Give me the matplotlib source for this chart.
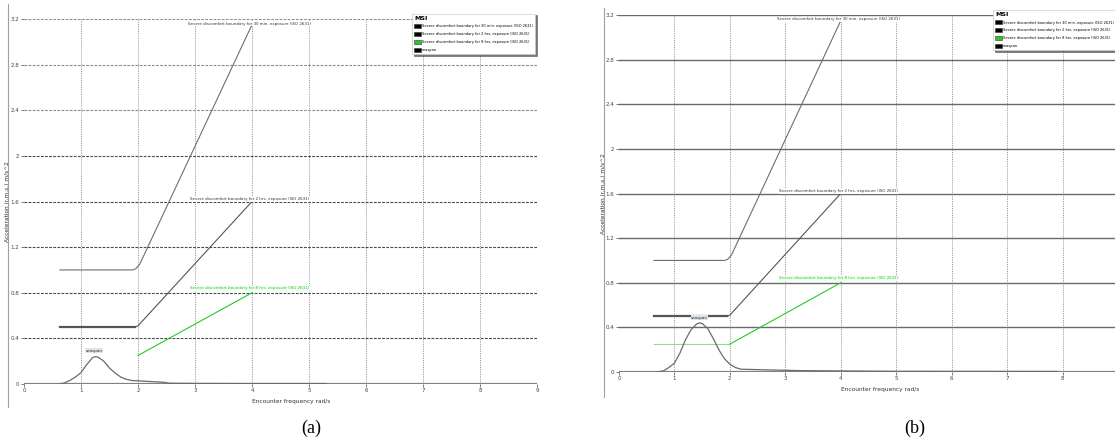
import matplotlib

matplotlib.use("Agg")
import matplotlib.pyplot as plt
from matplotlib.lines import Line2D
from matplotlib.patches import Patch

# ISO 2631 severe discomfort boundaries (encounter frequency rad/s, acceleration m/s^2)
bound_30min_x = [0.63, 1.90, 1.96, 2.03, 4.0]
bound_30min_y = [1.00, 1.00, 1.01, 1.05, 3.15]
bound_2hr_x = [0.63, 1.95, 2.0, 4.0]
bound_2hr_y = [0.50, 0.50, 0.51, 1.60]
bound_8hr_flat_x = [0.63, 2.0]
bound_8hr_flat_y = [0.25, 0.25]
bound_8hr_rise_x = [2.0, 4.0]
bound_8hr_rise_y = [0.25, 0.80]

# vessel response spectra
resp_a_x = [0.62, 0.70, 0.80, 0.90, 1.00, 1.10, 1.20, 1.25, 1.30, 1.40, 1.50, 1.60,
            1.70, 1.80, 1.90, 2.00, 2.20, 2.45, 2.55, 3.00, 4.00, 5.00, 5.30]
resp_a_y = [0.000, 0.008, 0.030, 0.060, 0.100, 0.170, 0.230, 0.240, 0.235, 0.200, 0.140, 0.095,
            0.060, 0.040, 0.030, 0.028, 0.022, 0.015, 0.007, 0.005, 0.004, 0.004, 0.004]
resp_b_x = [0.70, 0.80, 0.90, 1.00, 1.10, 1.20, 1.30, 1.40, 1.45, 1.50, 1.60, 1.70,
            1.80, 1.90, 2.00, 2.10, 2.20, 2.60, 3.30, 5.00, 7.90]
resp_b_y = [0.000, 0.010, 0.040, 0.080, 0.170, 0.290, 0.380, 0.430, 0.440, 0.435, 0.390, 0.300,
            0.200, 0.120, 0.070, 0.040, 0.025, 0.020, 0.012, 0.006, 0.005]
resp_a_peak = (1.23, 0.245)
resp_b_peak = (1.45, 0.44)

x_ticks = [0, 1, 2, 3, 4, 5, 6, 7, 8, 9]
y_ticks = [0, 0.4, 0.8, 1.2, 1.6, 2.0, 2.4, 2.8, 3.2]
y_tick_labels = ["0", "0.4", "0.8", "1.2", "1.6", "2", "2.4", "2.8", "3.2"]

label_30min = "Severe discomfort boundary for 30 min. exposure (ISO 2631)"
label_2hr = "Severe discomfort boundary for 2 hrs. exposure (ISO 2631)"
label_8hr = "Severe discomfort boundary for 8 hrs. exposure (ISO 2631)"
label_resp = "seaspan"
legend_labels = [
    "Severe discomfort boundary for 30 min. exposure (ISO 2631)",
    "Severe discomfort boundary for 2 hrs. exposure (ISO 2631)",
    "Severe discomfort boundary for 8 hrs. exposure (ISO 2631)",
    label_resp,
]

NARROW = ["Liberation Sans Narrow", "DejaVu Sans"]
GREEN = "#22cc22"

fig = plt.figure(figsize=(11.15, 4.42), dpi=100)


def draw_panel(ax, resp_x, resp_y, peak, green_flat, hgrid, show_last_xtick):
    ax.set_xlim(0, 9)
    ax.set_ylim(0, 3.2)
    for s in ax.spines.values():
        s.set_visible(False)

    for xv in x_ticks[1:]:
        ax.axvline(xv, color="#9a9a9a", lw=0.7, ls=(0, (1.2, 1.2)), zorder=0)
    for yv in y_ticks[1:]:
        style = dict(hgrid)
        if "upper_color" in style:
            upper = style.pop("upper_color")
            if yv > 2.1:
                style["color"] = upper
        ax.axhline(yv, zorder=0, **style)
    ax.axhline(0, color="#808080", lw=1.6, zorder=1)

    ax.plot(bound_30min_x, bound_30min_y, color="#6e6e6e", lw=0.8, zorder=3)
    ax.plot(bound_2hr_x[:2], bound_2hr_y[:2], color="#555555", lw=1.6, zorder=3)
    ax.plot(bound_2hr_x[1:], bound_2hr_y[1:], color="#555555", lw=0.8, zorder=3)
    if green_flat:
        ax.plot(bound_8hr_flat_x, bound_8hr_flat_y, color="#88e088", lw=0.8, zorder=3)
    ax.plot(bound_8hr_rise_x, bound_8hr_rise_y, color=GREEN, lw=0.8, zorder=3)

    ax.plot(resp_x, resp_y, color="#6a6a6a", lw=0.9, zorder=4)

    txt = dict(fontsize=2.9, family=NARROW, ha="center", va="center", zorder=6)
    ax.text(3.96, 3.16, label_30min, color="#333333",
            bbox=dict(fc="white", ec="none", pad=0.3), **txt)
    ax.text(3.96, 1.62, label_2hr, color="#333333",
            bbox=dict(fc="white", ec="none", pad=0.3), **txt)
    ax.text(3.96, 0.84, label_8hr, color=GREEN,
            bbox=dict(fc="#f0fff0", ec="none", pad=0.3), **txt)
    ax.text(peak[0], peak[1] + 0.03, label_resp, fontsize=3.0, family=NARROW,
            ha="center", va="bottom", color="#333333", zorder=6,
            bbox=dict(fc="#dde4ea", ec="none", pad=0.2))

    ax.set_xticks(x_ticks)
    xlabels = [str(v) for v in x_ticks]
    if not show_last_xtick:
        xlabels[-1] = ""
    ax.set_xticklabels(xlabels)
    ax.set_yticks(y_ticks)
    ax.set_yticklabels(y_tick_labels)
    ax.tick_params(axis="both", labelsize=4.0, colors="#444444", length=2, width=0.5, pad=1.2)
    for t in ax.get_xticklabels() + ax.get_yticklabels():
        t.set_family(NARROW)

    ax.text(4.0, -0.13, "Encounter frequency rad/s", fontsize=4.2, family=NARROW,
            ha="left", va="top", color="#333333")

    handles = [
        Patch(fc="black", ec="#333333", lw=0.4),
        Patch(fc="black", ec="#333333", lw=0.4),
        Patch(fc=GREEN, ec="#333333", lw=0.4),
        Patch(fc="black", ec="#333333", lw=0.4),
    ]
    leg = ax.legend(handles, legend_labels, title="MSI", loc="upper right",
                    bbox_to_anchor=(1.0, 1.02), title_fontsize=4.5,
                    handlelength=1.8, handleheight=1.3, handletextpad=0.4,
                    labelspacing=1.0, borderpad=0.6, frameon=True, fancybox=False,
                    shadow={"ox": 1.2, "oy": -1.2, "color": "#555555", "alpha": 0.8},
                    alignment="left", prop={"family": NARROW, "size": 2.6})
    leg.get_frame().set_edgecolor("#cccccc")
    leg.get_frame().set_linewidth(0.5)
    leg.get_title().set_fontweight("bold")
    leg.set_zorder(10)


ax_a = fig.add_axes([24 / 1115, 58 / 442, 513 / 1115, 365 / 442])
draw_panel(ax_a, resp_a_x, resp_a_y, resp_a_peak, False,
           dict(color="#4a4a4a", lw=0.8, ls=(0, (2.5, 1.2)), upper_color="#909090"), True)
ax_a.yaxis.set_label_coords(-0.028, 0.55)
ax_a.set_ylabel("Acceleration (r.m.s.) m/s^2", fontsize=4.2, family=NARROW, color="#333333")

ax_b = fig.add_axes([619 / 1115, 70 / 442, 499 / 1115, 357 / 442])
draw_panel(ax_b, resp_b_x, resp_b_y, resp_b_peak, True,
           dict(color="#6a6a6a", lw=1.0, ls="-"), False)
ax_b.yaxis.set_label_coords(-0.026, 0.55)
ax_b.set_ylabel("Acceleration (r.m.s.) m/s^2", fontsize=4.2, family=NARROW, color="#333333")

# panel frame edges
fig.add_artist(Line2D([8 / 1115, 8 / 1115], [1 - 4 / 442, 1 - 407 / 442],
                      color="#a0a0a0", lw=0.8))
fig.add_artist(Line2D([604 / 1115, 604 / 1115], [1 - 8 / 442, 1 - 397 / 442],
                      color="#a0a0a0", lw=0.8))

fig.text(311 / 1115, 1 - 428 / 442, "(a)", fontsize=13, family="Liberation Serif",
         ha="center", va="center")
fig.text(915 / 1115, 1 - 428 / 442, "(b)", fontsize=13, family="Liberation Serif",
         ha="center", va="center")

fig.savefig("out.png", dpi=100)
